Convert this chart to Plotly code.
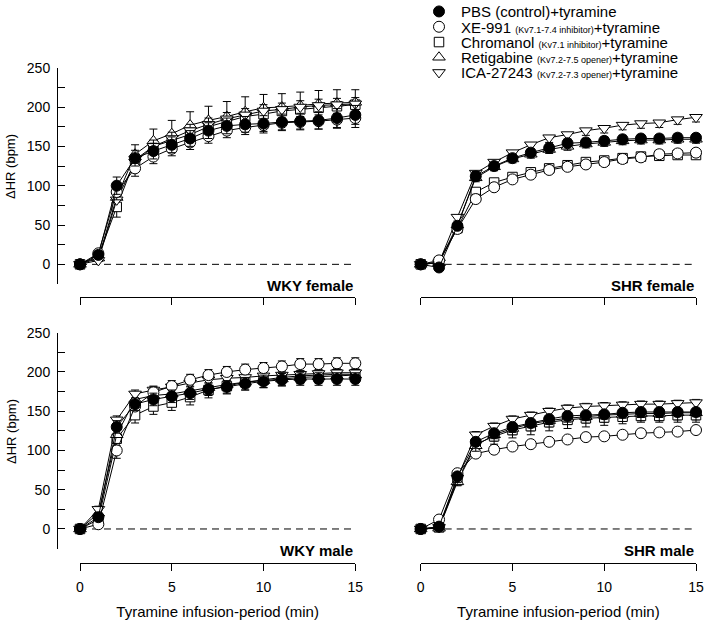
import plotly.graph_objects as go

# ---------------- data ----------------
t = list(range(16))

series_names = [
    "PBS (control)+tyramine",
    'XE-991 <span style="font-size:9px">(Kv7.1-7.4 inhibitor)</span>+tyramine',
    'Chromanol <span style="font-size:9px">(Kv7.1 inhibitor)</span>+tyramine',
    'Retigabine <span style="font-size:9px">(Kv7.2-7.5 opener)</span>+tyramine',
    'ICA-27243 <span style="font-size:9px">(Kv7.2-7.3 opener)</span>+tyramine',
]
panel_titles = ["WKY female", "SHR female", "WKY male", "SHR male"]
y_title = "ΔHR (bpm)"
x_title = "Tyramine infusion-period (min)"
y_tick_vals = [-25, 0, 25, 50, 75, 100, 125, 150, 175, 200, 225, 250]
y_tick_text = ["", "0", "", "50", "", "100", "", "150", "", "200", "", "250"]
x_tick_vals = [0, 5, 10, 15]

# WKY female
wkyf_pbs = [0, 12, 100, 135, 144, 152, 160, 170, 176, 178, 179, 181, 182, 183, 186, 190]
wkyf_pbs_err = [3, 5, 11, 10, 10, 10, 10, 10, 10, 10, 10, 10, 10, 11, 12, 12]
wkyf_xe = [0, 14, 92, 122, 137, 147, 155, 163, 170, 174, 177, 180, 181, 182, 184, 186]
wkyf_xe_err = [2, 4, 10, 10, 9, 9, 9, 9, 9, 9, 10, 10, 10, 10, 11, 12]
wkyf_chrom = [0, 10, 73, 133, 150, 158, 165, 175, 182, 188, 191, 195, 197, 199, 201, 203]
wkyf_chrom_err = [2, 4, 13, 10, 9, 9, 9, 9, 9, 9, 9, 9, 9, 9, 9, 9]
wkyf_retig = [0, 8, 85, 140, 157, 166, 177, 183, 188, 194, 199, 200, 202, 204, 205, 206]
wkyf_retig_err = [2, 4, 10, 12, 15, 17, 17, 18, 19, 19, 17, 17, 17, 17, 17, 16]
wkyf_ica = [0, 5, 82, 130, 150, 160, 170, 178, 185, 190, 195, 197, 200, 202, 203, 204]
wkyf_ica_err = [2, 3, 8, 8, 8, 8, 8, 8, 8, 8, 8, 8, 8, 8, 8, 8]

# SHR female
shrf_pbs = [0, -4, 49, 112, 125, 135, 142, 148, 154, 155, 157, 159, 160, 160, 161, 161]
shrf_pbs_err = [1, 2, 4, 6, 5, 5, 5, 5, 5, 5, 5, 5, 5, 5, 5, 5]
shrf_xe = [0, 5, 45, 83, 98, 108, 114, 120, 124, 127, 130, 134, 136, 140, 141, 142]
shrf_xe_err = [1, 2, 4, 6, 5, 5, 5, 5, 5, 5, 5, 5, 5, 5, 5, 5]
shrf_chrom = [0, 3, 46, 92, 104, 111, 117, 122, 126, 130, 132, 135, 137, 138, 139, 139]
shrf_chrom_err = [1, 2, 4, 5, 5, 5, 5, 5, 5, 5, 5, 5, 5, 5, 5, 5]
shrf_retig = [0, 2, 50, 110, 124, 134, 140, 146, 150, 153, 155, 157, 158, 158, 159, 159]
shrf_retig_err = [1, 2, 4, 5, 5, 5, 5, 5, 5, 5, 5, 5, 5, 5, 5, 5]
shrf_ica = [0, 2, 60, 116, 130, 142, 152, 161, 165, 170, 173, 177, 179, 180, 184, 187]
shrf_ica_err = [1, 2, 5, 6, 6, 6, 6, 6, 6, 6, 6, 6, 6, 6, 6, 6]

# WKY male
wkym_pbs = [0, 15, 130, 159, 165, 169, 173, 178, 181, 185, 188, 190, 191, 191, 191, 191]
wkym_pbs_err = [2, 4, 8, 8, 8, 8, 8, 8, 8, 8, 8, 8, 8, 8, 8, 8]
wkym_xe = [0, 6, 100, 156, 174, 182, 190, 196, 200, 203, 205, 207, 210, 210, 211, 211]
wkym_xe_err = [2, 3, 6, 7, 7, 7, 7, 7, 7, 7, 7, 7, 7, 7, 7, 7]
wkym_chrom = [0, 12, 115, 145, 156, 161, 168, 177, 182, 187, 190, 193, 195, 196, 197, 197]
wkym_chrom_err = [2, 4, 25, 10, 10, 10, 10, 10, 10, 10, 10, 10, 10, 10, 10, 10]
wkym_retig = [0, 20, 120, 165, 170, 172, 176, 180, 184, 187, 189, 191, 193, 194, 195, 196]
wkym_retig_err = [2, 4, 6, 6, 6, 6, 6, 6, 6, 6, 6, 6, 6, 6, 6, 6]
wkym_ica = [0, 25, 139, 172, 177, 181, 186, 190, 192, 193, 195, 196, 197, 198, 199, 199]
wkym_ica_err = [2, 4, 5, 5, 5, 5, 5, 5, 5, 5, 5, 5, 5, 5, 5, 5]

# SHR male
shrm_pbs = [0, 3, 67, 111, 122, 130, 135, 140, 144, 145, 146, 148, 149, 149, 149, 149]
shrm_pbs_err = [1, 3, 8, 12, 14, 14, 15, 15, 16, 15, 14, 14, 13, 13, 13, 13]
shrm_xe = [0, 12, 71, 96, 101, 105, 108, 111, 114, 117, 118, 120, 122, 123, 124, 126]
shrm_xe_err = [1, 2, 3, 3, 3, 3, 3, 3, 3, 3, 3, 3, 3, 3, 3, 3]
shrm_chrom = [0, 2, 62, 108, 118, 126, 131, 136, 139, 141, 142, 143, 144, 144, 145, 145]
shrm_chrom_err = [1, 2, 5, 6, 6, 6, 6, 6, 6, 6, 6, 6, 6, 6, 6, 6]
shrm_retig = [0, 1, 60, 106, 120, 128, 134, 138, 141, 143, 145, 146, 147, 147, 148, 148]
shrm_retig_err = [1, 2, 5, 5, 5, 5, 5, 5, 5, 5, 5, 5, 5, 5, 5, 5]
shrm_ica = [0, 2, 65, 120, 131, 140, 145, 150, 154, 156, 157, 158, 159, 159, 160, 161]
shrm_ica_err = [1, 2, 4, 4, 4, 4, 4, 4, 4, 4, 4, 4, 4, 4, 4, 4]

panels = [
    [wkyf_pbs, wkyf_xe, wkyf_chrom, wkyf_retig, wkyf_ica],
    [shrf_pbs, shrf_xe, shrf_chrom, shrf_retig, shrf_ica],
    [wkym_pbs, wkym_xe, wkym_chrom, wkym_retig, wkym_ica],
    [shrm_pbs, shrm_xe, shrm_chrom, shrm_retig, shrm_ica],
]
panel_errs = [
    [wkyf_pbs_err, wkyf_xe_err, wkyf_chrom_err, wkyf_retig_err, wkyf_ica_err],
    [shrf_pbs_err, shrf_xe_err, shrf_chrom_err, shrf_retig_err, shrf_ica_err],
    [wkym_pbs_err, wkym_xe_err, wkym_chrom_err, wkym_retig_err, wkym_ica_err],
    [shrm_pbs_err, shrm_xe_err, shrm_chrom_err, shrm_retig_err, shrm_ica_err],
]

# ---------------- styles ----------------
W, H = 708, 624
FONT = "Arial, Liberation Sans, sans-serif"
symbols = ["circle", "circle", "square", "triangle-up", "triangle-down"]
fills = ["black", "white", "white", "white", "white"]
sizes = [11, 11, 9.5, 11, 11]
# error direction per panel/series: 'up', 'down', 'both'
err_dirs = [
    ["both", "down", "down", "up", "up"],
    ["up", "up", "down", "down", "down"],
    ["both", "up", "down", "up", "up"],
    ["down", "up", "down", "down", "up"],
]
draw_order = [2, 3, 4, 1, 0]


def px_x(p):
    return p / W


def px_y(p):
    return 1 - p / H


# pixel geometry
x_scale = (355.3 - 80) / 15.0
col_zero = [80, 420.7]
col_dom = [(58, 365), (400, 706)]
row_dom = [(67.7, 284.0), (332.7, 548.6)]
row_xline = [297.0, 563.3]
row_label_y = [285.7, 550.0]
row_ytitle_y = [167.0, 432.0]

fig = go.Figure()
layout = {}
shapes = []
annotations = []

for pi in range(4):
    r, c = divmod(pi, 2)
    a = pi + 1
    d = pi + 5
    # data traces
    for si in draw_order:
        e = panel_errs[pi][si]
        zeros = [0] * len(e)
        dr = err_dirs[pi][si]
        up = e if dr in ("up", "both") else zeros
        dn = e if dr in ("down", "both") else zeros
        fig.add_trace(go.Scatter(
            x=t, y=panels[pi][si], mode="lines+markers",
            xaxis=f"x{a}", yaxis=f"y{a}", showlegend=False,
            line=dict(color="black", width=1),
            marker=dict(symbol=symbols[si], size=sizes[si], color=fills[si],
                        line=dict(color="black", width=1)),
            error_y=dict(type="data", symmetric=False, array=up, arrayminus=dn,
                         color="black", thickness=1, width=4),
            cliponaxis=False,
        ))
    # decoration axis dummy
    fig.add_trace(go.Scatter(x=[None], y=[None], xaxis=f"x{d}", yaxis=f"y{a}",
                             showlegend=False, hoverinfo="skip", mode="markers"))

    x0p, x1p = col_dom[c]
    rng = [(x0p - col_zero[c]) / x_scale, (x1p - col_zero[c]) / x_scale]
    ytop, ybot = row_dom[r]
    layout[f"xaxis{a}"] = dict(domain=[px_x(x0p), px_x(x1p)], range=rng,
                               visible=False, anchor=f"y{a}", fixedrange=True,
                               automargin=False)
    layout[f"yaxis{a}"] = dict(
        domain=[px_y(ybot), px_y(ytop)], range=[-25, 250], anchor=f"x{a}",
        visible=(c == 0), showline=True, linecolor="black", linewidth=1,
        ticks="inside", ticklen=7, tickcolor="black", tickwidth=1,
        tickvals=y_tick_vals, ticktext=y_tick_text,
        tickfont=dict(size=14, color="black", family=FONT),
        showgrid=False, zeroline=False, ticklabelstandoff=4, automargin=False,
    )
    layout[f"xaxis{d}"] = dict(
        domain=[px_x(col_zero[c]), px_x(col_zero[c] + 15 * x_scale)],
        range=[0, 15], anchor="free", position=px_y(row_xline[r]),
        showline=True, linecolor="black", linewidth=1,
        ticks="outside", ticklen=7, tickcolor="black", tickwidth=1,
        tickvals=x_tick_vals, showticklabels=(r == 1),
        tickfont=dict(size=14, color="black", family=FONT),
        showgrid=False, zeroline=False, ticklabelstandoff=4, automargin=False,
        title=dict(text=x_title if r == 1 else "",
                   font=dict(size=15, color="black", family=FONT), standoff=12),
    )
    shapes.append(dict(type="line", xref=f"x{a}", yref=f"y{a}", x0=0, x1=15, y0=0, y1=0,
                       line=dict(color="black", width=1, dash="7px,5px"), layer="below"))
    annotations.append(dict(text=f"<b>{panel_titles[pi]}</b>", xref="paper", yref="paper",
                            x=px_x(col_zero[c] + 15 * x_scale), y=px_y(row_label_y[r]),
                            xanchor="right", yanchor="middle", showarrow=False,
                            font=dict(size=15, color="black", family=FONT)))
    if c == 0:
        annotations.append(dict(text=y_title, xref="paper", yref="paper",
                                x=px_x(11), y=px_y(row_ytitle_y[r]), textangle=-90,
                                xanchor="center", yanchor="middle", showarrow=False,
                                font=dict(size=13, color="black", family=FONT)))

# legend entries (one legend each so spacing matches)
legend_y = [11.7, 27.0, 42.3, 57.5, 72.7]
for si in range(5):
    key = "legend" if si == 0 else f"legend{si + 1}"
    fig.add_trace(go.Scatter(
        x=[None], y=[None], mode="markers", name=series_names[si],
        xaxis="x1", yaxis="y1", legend=key, showlegend=True,
        marker=dict(symbol=symbols[si], size=sizes[si], color=fills[si],
                    line=dict(color="black", width=1)),
    ))
    layout[key] = dict(x=px_x(417), y=px_y(legend_y[si]), xanchor="left", yanchor="middle",
                       bgcolor="rgba(0,0,0,0)", borderwidth=0, itemwidth=34,
                       font=dict(size=15, color="black", family=FONT))

fig.update_layout(
    template="none",
    width=W, height=H, margin=dict(l=0, r=0, t=0, b=0, autoexpand=False),
    paper_bgcolor="white", plot_bgcolor="rgba(0,0,0,0)",
    font=dict(family=FONT, color="black"),
    shapes=shapes, annotations=annotations, **layout,
)

fig.write_html("out.html", config={"displayModeBar": False},
               post_script="document.body.style.margin='0px';")
